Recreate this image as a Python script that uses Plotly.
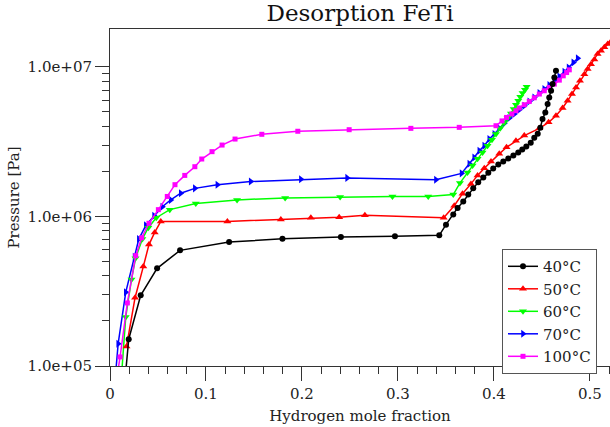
import plotly.graph_objects as go

# ---------------- data ----------------
x_40 = [0.0163, 0.0195, 0.0320, 0.0491, 0.0730, 0.1241, 0.1797, 0.2406, 0.2969, 0.3431,
        0.3501, 0.3577, 0.3622, 0.3681, 0.3733, 0.3785, 0.3837, 0.3890, 0.3942, 0.3993,
        0.4046, 0.4098, 0.4150, 0.4203, 0.4254, 0.4296, 0.4338, 0.4384, 0.4421, 0.4457,
        0.4484, 0.4507, 0.4536, 0.4560, 0.4577, 0.4596, 0.4612, 0.4630, 0.4647]
p_40 = [9.0e4, 1.51e5, 2.97e5, 4.50e5, 5.93e5, 6.75e5, 7.08e5, 7.28e5, 7.36e5, 7.47e5,
        8.81e5, 1.03e6, 1.14e6, 1.26e6, 1.40e6, 1.54e6, 1.69e6, 1.82e6, 1.96e6, 2.09e6,
        2.22e6, 2.33e6, 2.44e6, 2.55e6, 2.67e6, 2.80e6, 2.93e6, 3.11e6, 3.36e6, 3.57e6,
        3.92e6, 4.48e6, 4.95e6, 5.64e6, 6.24e6, 6.92e6, 7.67e6, 8.49e6, 9.40e6]

x_50 = [0.0172, 0.0261, 0.0347, 0.0406, 0.0466, 0.0529, 0.1223, 0.1780, 0.2093, 0.2388,
        0.2656, 0.3477, 0.3587, 0.3673, 0.3761, 0.3830, 0.3900, 0.3970, 0.4056, 0.4132,
        0.4230, 0.4317, 0.4474, 0.4570, 0.4647, 0.4716, 0.4768, 0.4814, 0.4856, 0.4897,
        0.4943, 0.4977, 0.5012, 0.5047, 0.5081, 0.5116, 0.5151, 0.5186, 0.5220, 0.5255]
p_50 = [1.35e5, 2.86e5, 4.62e5, 6.48e5, 7.82e5, 9.26e5, 9.26e5, 9.55e5, 9.80e5, 9.89e5,
        1.02e6, 9.80e5, 1.18e6, 1.42e6, 1.65e6, 1.88e6, 2.10e6, 2.33e6, 2.62e6, 2.90e6,
        3.21e6, 3.47e6, 3.88e6, 4.26e6, 4.71e6, 5.31e6, 5.93e6, 6.58e6, 7.28e6, 8.07e6,
        8.93e6, 9.66e6, 1.04e7, 1.12e7, 1.22e7, 1.28e7, 1.35e7, 1.42e7, 1.48e7, 1.55e7]

x_60 = [0.0122, 0.0164, 0.0224, 0.0266, 0.0337, 0.0399, 0.0482, 0.0623, 0.0894, 0.1324,
        0.1825, 0.2398, 0.2943, 0.3316, 0.3577, 0.3646, 0.3725, 0.3778, 0.3830, 0.3882,
        0.3934, 0.3980, 0.4022, 0.4066, 0.4108, 0.4143, 0.4178, 0.4206, 0.4230, 0.4254,
        0.4275, 0.4299, 0.4324, 0.4341]
p_60 = [9.0e4, 2.13e5, 3.79e5, 5.25e5, 7.06e5, 8.41e5, 9.80e5, 1.11e6, 1.22e6, 1.29e6,
        1.33e6, 1.35e6, 1.36e6, 1.36e6, 1.40e6, 1.67e6, 1.97e6, 2.19e6, 2.43e6, 2.68e6,
        2.97e6, 3.26e6, 3.56e6, 3.88e6, 4.21e6, 4.55e6, 4.88e6, 5.22e6, 5.58e6, 5.93e6,
        6.31e6, 6.68e6, 7.03e6, 7.36e6]

x_70 = [0.0056, 0.0085, 0.0164, 0.0256, 0.0300, 0.0373, 0.0459, 0.0545, 0.0633, 0.0737,
        0.0884, 0.1119, 0.1466, 0.1989, 0.2471, 0.3396, 0.3663, 0.3744, 0.3795, 0.3848,
        0.3900, 0.3952, 0.4005, 0.4056, 0.4108, 0.4161, 0.4213, 0.4265, 0.4317, 0.4369,
        0.4421, 0.4474, 0.4525, 0.4577, 0.4630, 0.4682, 0.4734, 0.4778, 0.4828, 0.4873]
p_70 = [8.5e4, 1.41e5, 3.11e5, 5.38e5, 7.06e5, 8.71e5, 1.01e6, 1.16e6, 1.29e6, 1.43e6,
        1.54e6, 1.63e6, 1.71e6, 1.77e6, 1.81e6, 1.76e6, 1.94e6, 2.25e6, 2.48e6, 2.75e6,
        2.97e6, 3.29e6, 3.56e6, 3.88e6, 4.19e6, 4.55e6, 4.84e6, 5.17e6, 5.50e6, 5.87e6,
        6.24e6, 6.68e6, 7.10e6, 7.55e6, 8.07e6, 8.61e6, 9.26e6, 9.89e6, 1.07e7, 1.14e7]

x_100 = [0.0076, 0.0105, 0.0181, 0.0268, 0.0330, 0.0406, 0.0504, 0.0597, 0.0677, 0.0779,
         0.0884, 0.0956, 0.1063, 0.1168, 0.1303, 0.1582, 0.1957, 0.2492, 0.3135, 0.3639,
         0.4022, 0.4085, 0.4132, 0.4188, 0.4230, 0.4265, 0.4317, 0.4369, 0.4421, 0.4474,
         0.4525, 0.4577, 0.4630, 0.4682, 0.4723, 0.4758, 0.4786]
p_100 = [8.7e4, 1.15e5, 2.64e5, 5.46e5, 7.2e5, 9.0e5, 1.11e6, 1.36e6, 1.63e6, 1.88e6,
         2.15e6, 2.42e6, 2.71e6, 3.00e6, 3.29e6, 3.54e6, 3.71e6, 3.80e6, 3.88e6, 3.94e6,
         4.04e6, 4.35e6, 4.59e6, 4.84e6, 5.09e6, 5.31e6, 5.58e6, 5.87e6, 6.21e6, 6.58e6,
         6.92e6, 7.28e6, 7.67e6, 8.15e6, 8.71e6, 9.16e6, 9.55e6]

x_ticks = [0, 0.1, 0.2, 0.3, 0.4, 0.5]
x_tick_labels = ["0", "0.1", "0.2", "0.3", "0.4", "0.5"]
y_ticks = [1e5, 1e6, 1e7]
y_tick_labels = ["1.0e+05", "1.0e+06", "1.0e+07"]

FONT = "DejaVu Serif, serif"

series = [
    # name, x, y, color, symbol, size, legendrank
    ("70°C", x_70, p_70, "#0000ff", "triangle-right", 7, 4),
    ("60°C", x_60, p_60, "#00ff00", "triangle-down", 7, 3),
    ("100°C", x_100, p_100, "#ff00ff", "square", 5, 5),
    ("50°C", x_50, p_50, "#ff0000", "triangle-up", 7, 2),
    ("40°C", x_40, p_40, "#000000", "circle", 6, 1),
]

fig = go.Figure()
for name, xs, ys, col, sym, sz, rank in series:
    fig.add_trace(go.Scatter(
        x=xs, y=ys, name=name, mode="lines+markers",
        line=dict(color=col, width=1.5),
        marker=dict(color=col, symbol=sym, size=sz, line=dict(width=0)),
        legendrank=rank, cliponaxis=True,
    ))

minor_y = [m * 10 ** e for e in (5, 6, 7) for m in range(2, 10)]

fig.update_layout(
    width=610, height=427,
    margin=dict(l=110, r=0, t=29, b=61),
    paper_bgcolor="white", plot_bgcolor="white",
    font=dict(family=FONT, size=15, color="#222"),
    title=dict(text="Desorption FeTi", xref="paper", x=0.5, xanchor="center",
               y=0.97, yanchor="middle",
               font=dict(family=FONT, size=23, color="#111")),
    legend=dict(x=0.784, y=0.347, xanchor="left", yanchor="top",
                bgcolor="white", bordercolor="#555", borderwidth=1,
                font=dict(family=FONT, size=15, color="#222"),
                tracegroupgap=0, itemwidth=30),
    showlegend=True,
)
fig.update_xaxes(
    range=[0, 0.521], showgrid=False, zeroline=False,
    showline=True, linecolor="#333", linewidth=1, mirror=True,
    ticks="outside", ticklen=14, tickcolor="#333",
    tickvals=x_ticks, ticktext=x_tick_labels,
    minor=dict(ticks="outside", ticklen=7, dtick=0.02, tick0=0, tickcolor="#333"),
    title=dict(text="Hydrogen mole fraction", font=dict(family=FONT, size=15), standoff=8),
)
fig.update_yaxes(
    type="log", range=[5, 7.253], showgrid=False, zeroline=False,
    showline=True, linecolor="#333", linewidth=1, mirror=False,
    ticks="outside", ticklen=14, tickcolor="#333",
    tickvals=y_ticks, ticktext=y_tick_labels,
    minor=dict(ticks="outside", ticklen=7, tickvals=minor_y, tickcolor="#333"),
    title=dict(text="Pressure [Pa]", font=dict(family=FONT, size=15), standoff=4),
)

fig.write_html("out.html")
